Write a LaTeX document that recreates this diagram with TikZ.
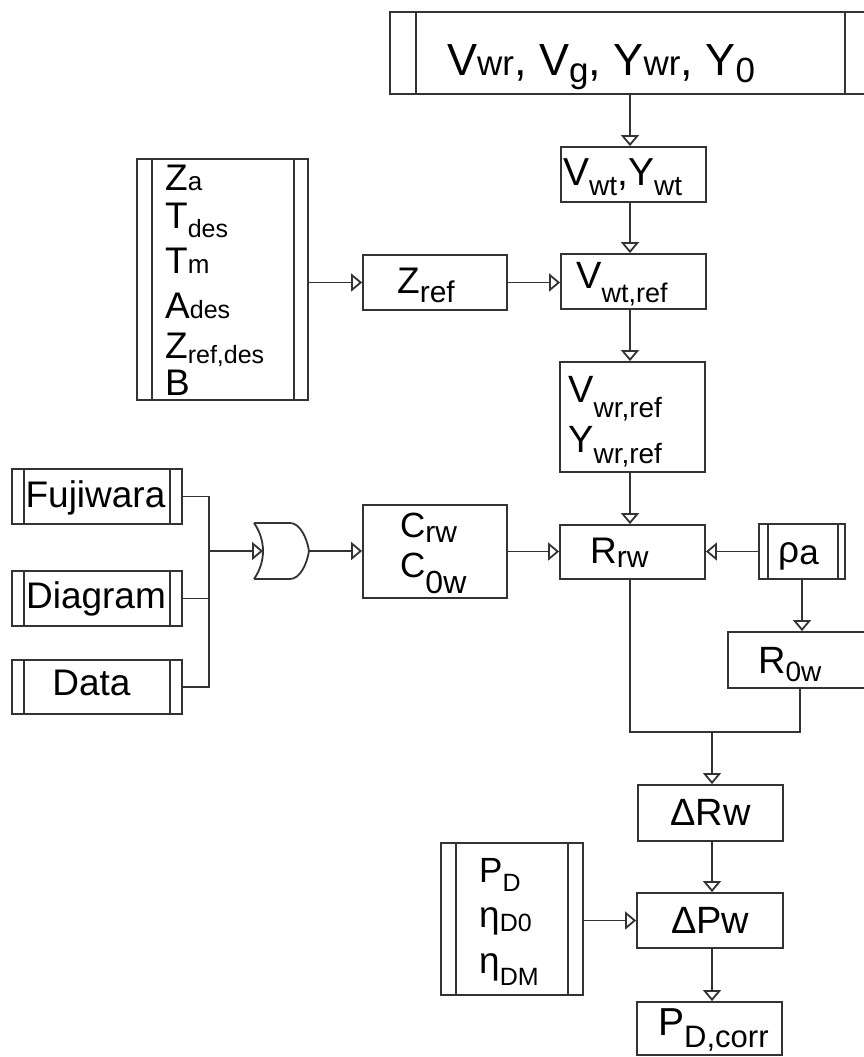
\documentclass[tikz,border=0pt]{standalone}
\usepackage{fontspec}
\setmainfont{Liberation Sans}
\usetikzlibrary{arrows.meta}
\newcommand\sbx[3]{\raisebox{-#2pt}{\fontsize{#1pt}{#1pt}\selectfont #3}}
\newcommand\fs[1]{\fontsize{#1pt}{#1pt}\selectfont}
\begin{document}
\begin{tikzpicture}[x=1pt,y=-1pt,
  box/.style={draw=black!80, line width=1.8pt, rectangle, inner sep=0pt},
  proc/.style n args={2}{box, path picture={
      \draw[black!80,line width=1.8pt] ([xshift=#1pt]path picture bounding box.north west) -- ([xshift=#1pt]path picture bounding box.south west);
      \draw[black!80,line width=1.8pt] ([xshift=-#2pt]path picture bounding box.north east) -- ([xshift=-#2pt]path picture bounding box.south east);}},
  txt/.style={inner sep=0pt, anchor=base west},
  ctxt/.style={inner sep=0pt, anchor=base},
  ln/.style={draw=black!80, line width=1.8pt},
  arr/.style={ln, -{Triangle[open,length=11pt,width=18pt]}},
]
\path[use as bounding box, fill=white] (0,0) rectangle (864,1057);

% ---- boxes ----
\node[proc={26}{25}, minimum width=480pt, minimum height=82pt] (top) at (630,53) {};
\node[box, minimum width=145pt, minimum height=55pt] (vwt) at (633.5,174.5) {};
\node[box, minimum width=145pt, minimum height=55pt] (vwtref) at (633.5,281.5) {};
\node[box, minimum width=145pt, minimum height=110pt] (vwrref) at (632.5,417) {};
\node[proc={15}{14}, minimum width=171pt, minimum height=241pt] (zb) at (222.5,279.5) {};
\node[box, minimum width=144pt, minimum height=55pt] (zref) at (435,282.5) {};
\node[proc={12}{12}, minimum width=170pt, minimum height=55pt] (fuji) at (97,496.5) {};
\node[proc={12}{12}, minimum width=170pt, minimum height=55pt] (diag) at (97,598.5) {};
\node[proc={12}{12}, minimum width=170pt, minimum height=54pt] (data) at (97,687) {};
\node[box, minimum width=144pt, minimum height=93pt] (cbox) at (435,551.5) {};
\node[box, minimum width=145pt, minimum height=54pt] (rrw) at (632.5,552) {};
\node[proc={9}{7}, minimum width=86pt, minimum height=55pt] (rho) at (802,551.5) {};
\node[box, minimum width=144pt, minimum height=56pt] (r0w) at (800,660) {};
\node[box, minimum width=145pt, minimum height=56pt] (drw) at (710.5,813) {};
\node[box, minimum width=146pt, minimum height=55pt] (dpw) at (710,920.5) {};
\node[box, minimum width=145pt, minimum height=53pt] (pdc) at (709.5,1028.5) {};
\node[proc={15}{15}, minimum width=142pt, minimum height=152pt] (pd) at (512,919) {};

% ---- texts ----
\node[txt, font=\fs{45}] (ttop) at (447,75) {V\sbx{35}{0}{wr}, V\sbx{35}{7}{g}, Y\sbx{35}{0}{wr}, Y\sbx{35}{7}{0}};
\node[txt, font=\fs{39}] (tvwt) at (563,185) {V\sbx{28}{10}{wt},Y\sbx{28}{10}{wt}};
\node[txt, font=\fs{38}] (tvwtref) at (576,288) {V\sbx{27}{14}{wt,ref}};
\node[txt, font=\fs{38}] (tvwr1) at (568,402) {V\sbx{28}{15}{wr,ref}};
\node[txt, font=\fs{38}] (tvwr2) at (568,452) {Y\sbx{28}{11}{wr,ref}};
\node[txt, font=\fs{37}] (tz1) at (165,190) {Z\sbx{26}{0}{a}};
\node[txt, font=\fs{37}] (tz2) at (165,228) {T\sbx{25}{9}{des}};
\node[txt, font=\fs{37}] (tz3) at (165,273) {T\sbx{26}{0}{m}};
\node[txt, font=\fs{37}] (tz4) at (165,318) {A\sbx{25}{0}{des}};
\node[txt, font=\fs{37}] (tz5) at (165,358) {Z\sbx{25}{5}{ref,des}};
\node[txt, font=\fs{37}] (tz6) at (165,395) {B};
\node[txt, font=\fs{37}] (tzref) at (397,293) {Z\sbx{30}{9}{ref}};
\node[ctxt, font=\fs{37}] (tfuji) at (95.5,507) {Fujiwara};
\node[ctxt, font=\fs{37}] (tdiag) at (96,608) {Diagram};
\node[ctxt, font=\fs{37}] (tdata) at (91.5,695) {Data};
\node[txt, font=\fs{35}] (tc1) at (400,537) {C\sbx{30}{5}{rw}};
\node[txt, font=\fs{35}] (tc2) at (400,577) {C\sbx{32}{16}{0w}};
\node[txt, font=\fs{37}] (trrw) at (590,563) {R\sbx{30}{4}{rw}};
\node[txt, font=\fs{37}] (trho) at (778,562) {ρ\sbx{35}{2}{a}};
\node[txt, font=\fs{38}] (tr0w) at (758,673) {R\sbx{28}{8}{0w}};
\node[txt, font=\fs{38}] (tdrw) at (670,825) {ΔRw};
\node[txt, font=\fs{38}] (tdpw) at (671,933) {ΔPw};
\node[txt, font=\fs{39}] (tpdc) at (658,1035) {P\sbx{31}{12}{D,corr}};
\node[txt, font=\fs{35}] (tpd1) at (479,882) {P\sbx{25}{9}{D}};
\node[txt, font=\fs{37}] (tpd2) at (479,927) {η\sbx{25}{4}{D0}};
\node[txt, font=\fs{37}] (tpd3) at (479,973) {η\sbx{25}{12}{DM}};

% ---- OR gate ----
\coordinate (orin) at (263,551);
\coordinate (orout) at (309,551);
\draw[ln] (254,523) .. controls (266,540) and (266,562) .. (254,579);
\draw[ln] (254,523) -- (290,523) .. controls (300,523) and (307,538) .. (orout)
          .. controls (307,564) and (300,579) .. (290,579) -- (254,579);

% ---- connectors ----
\coordinate (cx) at (630,0);
\coordinate (bus) at (209,551);
\coordinate (jn) at (712,732);
\draw[arr] (top.south -| cx) -- (vwt.north -| cx);
\draw[arr] (vwt.south -| cx) -- (vwtref.north -| cx);
\draw[arr] (vwtref.south -| cx) -- (vwrref.north -| cx);
\draw[arr] (vwrref.south -| cx) -- (rrw.north -| cx);
\draw[arr] (zb.east |- zref.west) -- (zref.west);
\draw[arr] (zref.east) -- (vwtref.west |- zref.east);
\draw[ln] (fuji.east) -| (bus);
\draw[ln] (data.east) -| (bus);
\draw[ln] (diag.east) -- (diag.east -| bus);
\draw[arr] (bus) -- (orin);
\draw[arr] (orout) -- (cbox.west |- orout);
\draw[arr] (cbox.east) -- (rrw.west |- cbox.east);
\draw[arr] (rho.west) -- (rrw.east |- rho.west);
\draw[arr] (rho.south) -- (r0w.north -| rho.south);
\draw[ln] (rrw.south -| cx) |- (jn);
\draw[ln] (r0w.south) |- (jn);
\draw[arr] (jn) -- (drw.north -| jn);
\draw[arr] (drw.south -| jn) -- (dpw.north -| jn);
\draw[arr] (dpw.south -| jn) -- (pdc.north -| jn);
\draw[arr] (pd.east |- dpw.west) -- (dpw.west);
\end{tikzpicture}
\end{document}
